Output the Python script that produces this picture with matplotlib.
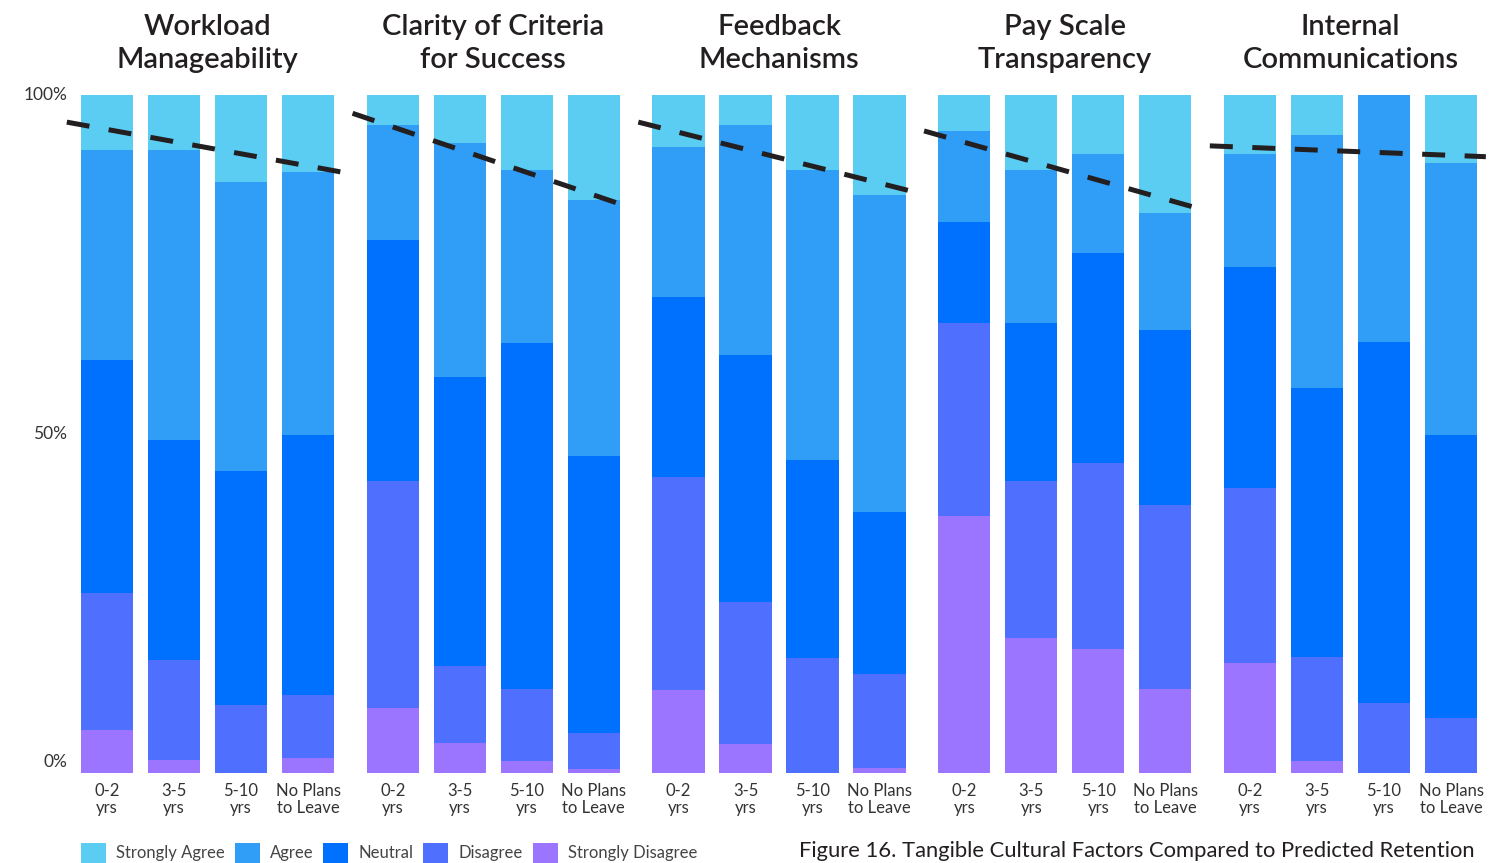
"""Stacked response shares per tenure group, with a dashed retention trend per factor."""

import matplotlib

matplotlib.use("Agg")
import matplotlib.pyplot as plt
import numpy as np
from matplotlib.patches import Patch

factors = ["Workload\nManageability", "Clarity of Criteria\nfor Success", "Feedback\nMechanisms",
           "Pay Scale\nTransparency", "Internal\nCommunications"]
tenure = ["0-2\nyrs", "3-5\nyrs", "5-10\nyrs", "No Plans\nto Leave"]
responses = ["Strongly Agree", "Agree", "Neutral", "Disagree", "Strongly Disagree"]

# percentages per factor, one value per tenure group (bottom of stack first)
strongly_disagree = [
    [6.3, 1.9, 0.0, 2.2],
    [9.6, 4.4, 1.8, 0.6],
    [12.2, 4.3, 0.0, 0.7],
    [37.9, 19.9, 18.3, 12.4],
    [16.2, 1.8, 0.0, 0.0],
]
disagree = [
    [20.2, 14.8, 10.0, 9.3],
    [33.5, 11.4, 10.6, 5.3],
    [31.5, 20.9, 17.0, 13.9],
    [28.5, 23.2, 27.4, 27.1],
    [25.8, 15.3, 10.3, 8.1],
]
neutral = [
    [34.4, 32.4, 34.5, 38.4],
    [35.5, 42.6, 51.0, 40.9],
    [26.5, 36.5, 29.2, 23.9],
    [14.9, 23.3, 31.0, 25.8],
    [32.6, 39.7, 53.3, 41.8],
]
agree = [
    [31.0, 42.8, 42.7, 38.7],
    [17.0, 34.5, 25.5, 37.7],
    [22.1, 33.9, 42.7, 46.8],
    [13.4, 22.5, 14.6, 17.3],
    [16.7, 37.3, 36.4, 40.1],
]
strongly_agree = [
    [8.1, 8.1, 12.8, 11.4],
    [4.4, 7.1, 11.1, 15.5],
    [7.7, 4.4, 11.1, 14.7],
    [5.3, 11.1, 8.7, 17.4],
    [8.7, 5.9, 0.0, 10.0],
]
trend_start = [96.0, 97.3, 96.0, 94.7, 92.5]
trend_end = [88.6, 83.5, 85.7, 83.2, 90.9]

colors = ["#5BCCF2", "#309DF7", "#0070FF", "#4F70FF", "#9B75FF"]
ink = "#231F20"
plt.rcParams["font.family"] = ["Lato", "DejaVu Sans"]

fig = plt.figure(figsize=(15.06, 8.63), dpi=100)
W, H = 1506, 863
ax = fig.add_axes([70 / W, (H - 773) / H, 1420 / W, 678 / H])

group_step = 4.265
width = 0.78
stack = [strongly_disagree, disagree, neutral, agree, strongly_agree]
stack_colors = colors[::-1]

for g in range(len(factors)):
    x = g * group_step + np.arange(len(tenure))
    bottom = np.zeros(len(tenure))
    for vals, c in zip(stack, stack_colors):
        v = np.array(vals[g])
        ax.bar(x, v, width=width, bottom=bottom, color=c, linewidth=0, zorder=1)
        bottom += v
    tx = [g * group_step - 0.6, g * group_step + 3.52]
    ax.plot(tx, [trend_start[g], trend_end[g]], color=ink, lw=3.6,
            dashes=(4.6, 3.9), solid_capstyle="butt", dash_capstyle="butt", zorder=3, clip_on=False)
    ax.text(g * group_step + 1.5, 100 + 100 * (95 - 43.5) / 678, factors[g],
            ha="center", va="center", fontsize=21, fontweight="semibold", color=ink, linespacing=1.36)
    for i, lab in enumerate(tenure):
        ax.text(x[i], -100 * 26.5 / 678, lab, ha="center", va="center", fontsize=12,
                color="#333333", linespacing=1.05)

ax.set_xlim(-37 / 67, 1383 / 67)
ax.set_ylim(0, 100)
ax.axis("off")

for y, lab in [(100, "100%"), (50, "50%"), (1.6, "0%")]:
    ax.text(-0.59, y, lab, ha="right", va="center", fontsize=12.5, color="#333333")

handles = [Patch(facecolor=c, edgecolor="none", label=r) for c, r in zip(colors, responses)]
fig.legend(handles=handles, loc="lower left", bbox_to_anchor=(81 / W, 0), ncol=5, frameon=False,
           fontsize=12, borderpad=0, borderaxespad=0, handlelength=1.5, handleheight=1.5,
           handletextpad=0.6, columnspacing=0.6, labelcolor="#444444")

fig.text(1475 / W, (H - 851) / H, "Figure 16. Tangible Cultural Factors Compared to Predicted Retention",
         ha="right", va="center", fontsize=15.8, color=ink)

fig.savefig("out.png", dpi=100)
